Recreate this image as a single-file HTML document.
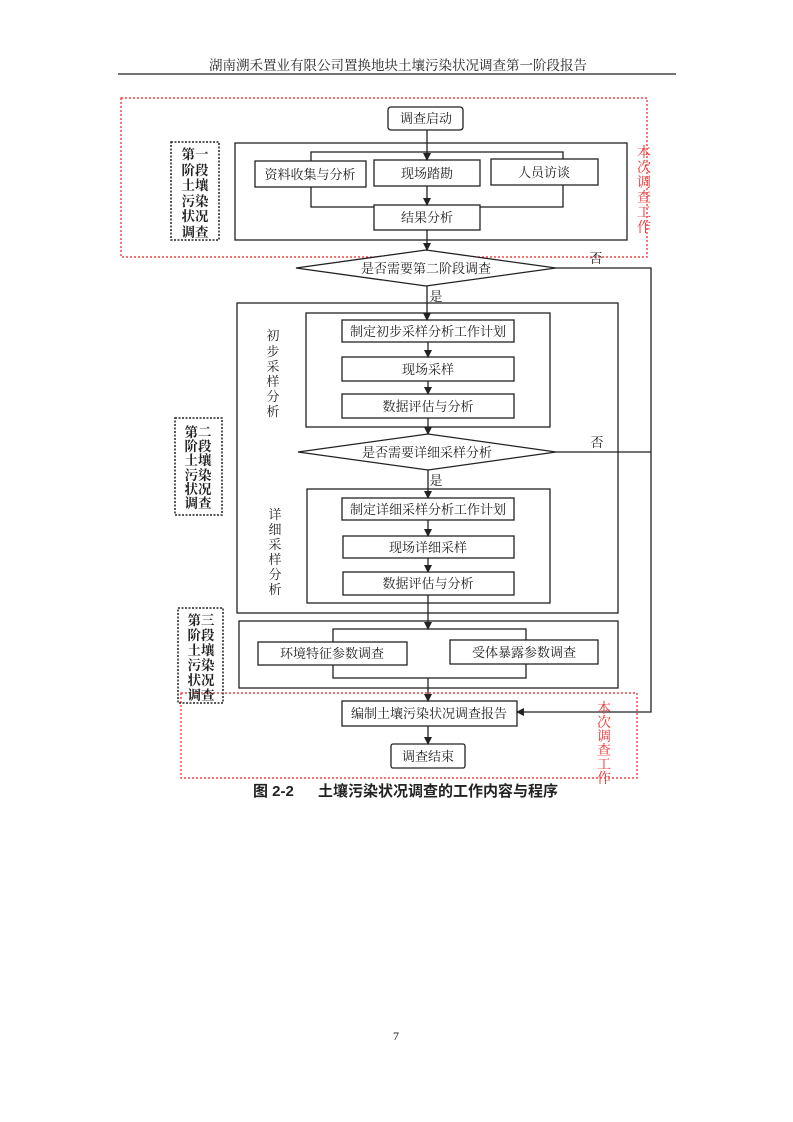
<!DOCTYPE html>
<html><head><meta charset="utf-8"><style>
html,body{margin:0;padding:0;background:#fff}
svg{display:block}
text{font-family:"Liberation Serif","Noto Serif CJK SC","Noto Sans CJK SC",serif;fill:#222}
.s{font-family:"Liberation Sans","Noto Sans CJK SC",sans-serif}
</style></head><body>
<svg width="793" height="1122" viewBox="0 0 793 1122" xmlns="http://www.w3.org/2000/svg">
<defs><marker id="a" markerWidth="8" markerHeight="8" refX="7" refY="4" orient="auto" markerUnits="userSpaceOnUse"><path d="M0,0 L8,4 L0,8 z" fill="#222"/></marker></defs>
<text x="398" y="70" font-size="13.5" text-anchor="middle">湖南溯禾置业有限公司置换地块土壤污染状况调查第一阶段报告</text>
<line x1="118" y1="74" x2="676" y2="74" stroke="#222" stroke-width="1.3"/>

<g fill="none" stroke="#e22" stroke-width="1.2" stroke-dasharray="2,2">
<rect x="121" y="98" width="526" height="159"/>
<rect x="181" y="693" width="456" height="85"/>
</g>
<g fill="none" stroke="#222" stroke-width="1.5" stroke-dasharray="2,1.5">
<rect x="171" y="142" width="48" height="98"/>
<rect x="175" y="418" width="47" height="97"/>
<rect x="178" y="608" width="45" height="95"/>
</g>
<g font-size="13.5" font-weight="bold" class="s" text-anchor="middle">
<text x="195" y="159">第一</text><text x="195" y="175">阶段</text><text x="195" y="190">土壤</text><text x="195" y="206">污染</text><text x="195" y="221">状况</text><text x="195" y="237">调查</text>
<text x="198" y="437">第二</text><text x="198" y="451">阶段</text><text x="198" y="465">土壤</text><text x="198" y="480">污染</text><text x="198" y="494">状况</text><text x="198" y="508">调查</text>
<text x="201" y="625">第三</text><text x="201" y="640">阶段</text><text x="201" y="655">土壤</text><text x="201" y="670">污染</text><text x="201" y="685">状况</text><text x="201" y="700">调查</text>
</g>

<g fill="#fff" stroke="#222" stroke-width="1.3">
<rect x="235" y="143" width="392" height="97"/>
<rect x="237" y="303" width="381" height="310"/>
<rect x="306" y="313" width="244" height="114"/>
<rect x="307" y="489" width="243" height="114"/>
<rect x="239" y="621" width="379" height="67"/>
<rect x="311" y="152" width="252" height="55"/>
<rect x="333" y="629" width="193" height="49"/>
<rect x="388" y="107" width="75" height="23" rx="3"/>
<rect x="255" y="161" width="111" height="26"/>
<rect x="374" y="160" width="106" height="26"/>
<rect x="491" y="159" width="107" height="26"/>
<rect x="374" y="205" width="106" height="25"/>
<rect x="342" y="320" width="172" height="22"/>
<rect x="342" y="357" width="172" height="24"/>
<rect x="342" y="394" width="172" height="24"/>
<rect x="342" y="498" width="172" height="22"/>
<rect x="343" y="536" width="171" height="22"/>
<rect x="343" y="572" width="171" height="23"/>
<rect x="258" y="642" width="149" height="23"/>
<rect x="450" y="640" width="148" height="24"/>
<rect x="342" y="701" width="175" height="25"/>
<rect x="391" y="744" width="74" height="24" rx="2"/>
<polygon points="296,268 426,250 556,268 426,286"/>
<polygon points="298,452 428,434 556,452 428,470"/>
</g>

<g stroke="#222" stroke-width="1.3" fill="none" marker-end="url(#a)">
<line x1="427" y1="130" x2="427" y2="160"/>
<line x1="427" y1="186" x2="427" y2="205"/>
<line x1="427" y1="230" x2="427" y2="250"/>
<line x1="427" y1="286" x2="427" y2="320"/>
<line x1="428" y1="342" x2="428" y2="357"/>
<line x1="428" y1="381" x2="428" y2="394"/>
<line x1="428" y1="418" x2="428" y2="434"/>
<line x1="428" y1="470" x2="428" y2="498"/>
<line x1="428" y1="520" x2="428" y2="536"/>
<line x1="428" y1="558" x2="428" y2="572"/>
<line x1="428" y1="595" x2="428" y2="629"/>
<line x1="428" y1="678" x2="428" y2="701"/>
<line x1="428" y1="726" x2="428" y2="744"/>
<polyline points="556,268 651,268 651,712 517,712"/>
</g>
<line x1="556" y1="452" x2="651" y2="452" stroke="#222" stroke-width="1.3"/>

<g font-size="13" text-anchor="middle">
<text x="426" y="123">调查启动</text>
<text x="310" y="179">资料收集与分析</text>
<text x="427" y="178">现场踏勘</text>
<text x="544" y="177">人员访谈</text>
<text x="427" y="222">结果分析</text>
<text x="426" y="273">是否需要第二阶段调查</text>
<text x="428" y="336">制定初步采样分析工作计划</text>
<text x="428" y="374">现场采样</text>
<text x="428" y="411">数据评估与分析</text>
<text x="427" y="457">是否需要详细采样分析</text>
<text x="428" y="514">制定详细采样分析工作计划</text>
<text x="428" y="552">现场详细采样</text>
<text x="428" y="588">数据评估与分析</text>
<text x="332" y="658">环境特征参数调查</text>
<text x="524" y="657">受体暴露参数调查</text>
<text x="429" y="718">编制土壤污染状况调查报告</text>
<text x="428" y="761">调查结束</text>
<text x="436" y="301">是</text>
<text x="436" y="485">是</text>
<text x="596" y="263">否</text>
<text x="597" y="447">否</text>
<text x="273" y="340">初</text><text x="273" y="356">步</text><text x="273" y="371">采</text><text x="273" y="386">样</text><text x="273" y="401">分</text><text x="273" y="416">析</text>
<text x="275" y="519">详</text><text x="275" y="534">细</text><text x="275" y="549">采</text><text x="275" y="564">样</text><text x="275" y="579">分</text><text x="275" y="594">析</text>
</g>
<g font-size="14" text-anchor="middle">
<text x="644" y="157" style="fill:#e33">本</text><text x="644" y="172" style="fill:#e33">次</text><text x="644" y="187" style="fill:#e33">调</text><text x="644" y="202" style="fill:#e33">查</text><text x="644" y="217" style="fill:#e33">工</text><text x="644" y="232" style="fill:#e33">作</text>
<text x="604" y="713" style="fill:#e33">本</text><text x="604" y="727" style="fill:#e33">次</text><text x="604" y="741" style="fill:#e33">调</text><text x="604" y="755" style="fill:#e33">查</text><text x="604" y="769" style="fill:#e33">工</text><text x="604" y="783" style="fill:#e33">作</text>
</g>
<text x="253" y="796" font-size="15" font-weight="bold" class="s">图 2-2</text>
<text x="318" y="796" font-size="15" font-weight="bold" class="s">土壤污染状况调查的工作内容与程序</text>
<text x="396" y="1040" font-size="12" text-anchor="middle">7</text>
</svg>
</body></html>
